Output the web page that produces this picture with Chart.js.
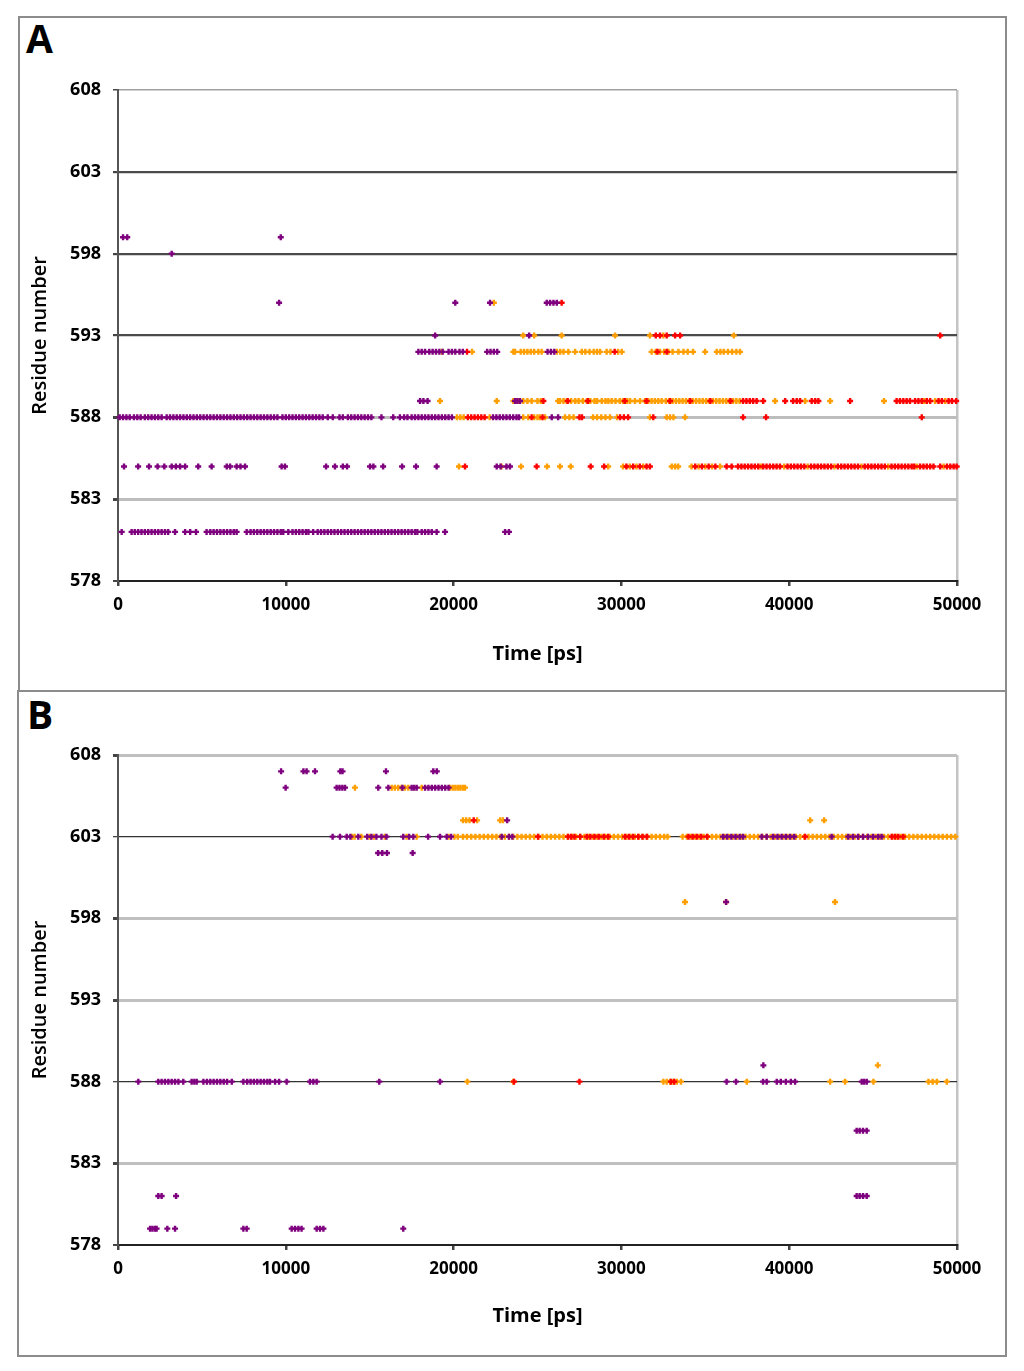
<!DOCTYPE html>
<html><head><meta charset="utf-8">
<script src="https://cdn.jsdelivr.net/npm/chart.js@4.4.1/dist/chart.umd.min.js"></script>
<style>
html,body{margin:0;padding:0;background:#fff;width:1024px;height:1371px;overflow:hidden;}
.box{position:absolute;border:2px solid #8c8c8c;box-sizing:border-box;background:#fff}
.lbl{position:absolute;font-family:"Open Sans",sans-serif;font-weight:700;font-size:39px;color:#000;line-height:1}
.wrap{position:absolute}
</style></head><body>
<div class="box" style="left:18px;top:16px;width:989px;height:676px"></div>
<div class="box" style="left:17px;top:690px;width:990px;height:667px"></div>
<div class="lbl" style="left:26px;top:18px">A</div>
<div class="lbl" style="left:27px;top:694px">B</div>
<div class="wrap" style="left:18px;top:18px;width:988px;height:672px"><canvas id="cA"></canvas></div>
<div class="wrap" style="left:18px;top:692px;width:988px;height:663px"><canvas id="cB"></canvas></div>
<script>
// ---------- tick labels ----------
const yTicks = [578, 583, 588, 593, 598, 603, 608];
const xTicks = [0, 10000, 20000, 30000, 40000, 50000];
const xTitle = 'Time [ps]';
const yTitle = 'Residue number';

// ---------- data: [residue, [times in ps]] ----------
const aPurple = [
  [599, [300, 550, 9700]],
  [598, [3200]],
  [595, [9600, 20100, 22170, 25550, 25750, 25950, 26150]],
  [593, [18900, 24500]],
  [592, [17900, 18100, 18300, 18550, 18750, 18950, 19150, 19350, 19700, 19900, 20100, 20350, 20550, 22000, 22200, 22400, 22600, 25600, 25800, 26000]],
  [589, [18000, 18200, 18450, 23660, 23800, 23960]],
  [588, [100, 300, 500, 700, 950, 1150, 1350, 1600, 1800, 2000, 2200, 2400, 2600, 2900, 3100, 3300, 3500, 3700, 3900, 4100, 4300, 4500, 4700, 4900, 5100, 5300, 5500, 5700, 5900, 6100, 6300, 6500, 6700, 6900, 7100, 7300, 7500, 7700, 7900, 8100, 8300, 8500, 8700, 8900, 9100, 9300, 9500, 9800, 10000, 10200, 10400, 10600, 10800, 11000, 11200, 11400, 11600, 11800, 12000, 12200, 12500, 12800, 13200, 13400, 13700, 13900, 14100, 14300, 14500, 14700, 14900, 15100, 15700, 16400, 16800, 17050, 17250, 17500, 17700, 17900, 18100, 18300, 18500, 18700, 18900, 19100, 19300, 19500, 19700, 19900, 22350, 22550, 22750, 22950, 23150, 23350, 23550, 23750, 23900, 25850, 26230]],
  [585, [360, 1200, 1850, 2360, 2760, 3200, 3450, 3700, 4000, 4780, 5580, 6480, 6680, 7070, 7300, 7570, 9750, 9950, 12400, 12930, 13400, 13650, 15020, 15220, 15800, 16930, 17760, 18990, 22570, 22800, 23150, 23360]],
  [581, [220, 810, 1000, 1200, 1400, 1600, 1800, 2000, 2200, 2400, 2600, 2800, 2990, 3400, 4000, 4300, 4650, 5280, 5500, 5700, 5900, 6100, 6300, 6500, 6700, 6900, 7070, 7670, 7900, 8100, 8300, 8500, 8700, 8900, 9100, 9300, 9500, 9700, 9850, 10150, 10400, 10600, 10800, 11000, 11200, 11350, 11630, 11900, 12100, 12300, 12500, 12700, 12900, 13100, 13300, 13500, 13700, 13900, 14100, 14300, 14500, 14700, 14900, 15100, 15300, 15500, 15700, 15900, 16100, 16300, 16500, 16700, 16900, 17100, 17300, 17500, 17700, 17840, 18100, 18300, 18500, 18700, 18990, 19490, 23070, 23300]]
];
const aOrange = [
  [595, [22400]],
  [593, [24150, 24800, 26440, 29620, 31700, 32500, 36700]],
  [592, [19300, 21100, 23560, 23660, 24000, 24200, 24400, 24600, 24800, 25050, 25250, 26150, 26350, 26550, 26840, 27240, 27640, 27850, 28100, 28350, 28550, 28730, 29120, 29350, 29800, 30020, 31800, 32050, 32300, 32550, 32800, 33050, 33400, 33700, 33950, 34270, 34990, 35680, 35900, 36100, 36350, 36600, 36850, 37070]],
  [589, [19190, 22570, 23560, 23900, 24150, 24400, 24650, 25000, 25200, 26230, 26340, 26550, 26750, 27000, 27250, 27450, 27700, 27950, 28150, 28400, 28550, 28830, 29050, 29220, 29420, 29650, 29900, 30100, 30350, 30520, 30810, 31110, 31410, 31600, 31800, 32000, 32200, 32400, 32650, 32850, 33050, 33250, 33450, 33650, 33850, 34050, 34250, 34450, 34650, 34850, 35050, 35250, 35450, 35650, 35850, 36050, 36250, 36450, 36650, 36850, 37050, 39160, 40950, 42440, 45650, 48050, 48700, 49300]],
  [588, [20200, 20400, 20600, 22150, 24150, 24450, 24800, 25000, 25150, 25450, 26640, 26900, 27150, 28310, 28550, 28800, 29050, 29320, 29740, 31700, 32700, 32900, 33100, 33790]],
  [585, [20320, 22850, 24020, 25570, 26340, 26980, 29210, 30100, 30500, 30900, 31300, 33000, 33200, 33380, 34180, 34600, 35000, 35400, 35880, 38300, 39700, 41100, 42700, 44300, 45900, 47600, 49200]]
];
const aRed = [
  [595, [26440]],
  [593, [32050, 32300, 32700, 33200, 33500, 49000]],
  [592, [20800, 29600, 32150, 32700]],
  [589, [25350, 26800, 28000, 30200, 31500, 32900, 34100, 35300, 36500, 37250, 37450, 37650, 37850, 38060, 38450, 39760, 40230, 40450, 40650, 41340, 41550, 41740, 43630, 46400, 46600, 46800, 47000, 47200, 47500, 47700, 47900, 48200, 48400, 48900, 49100, 49500, 49700, 49950]],
  [588, [20850, 21050, 21250, 21450, 21650, 21850, 24650, 25300, 27500, 27650, 29920, 30150, 30400, 31900, 37250, 38620, 47900]],
  [585, [20680, 24950, 28170, 28970, 30300, 30700, 31100, 31500, 31700, 34400, 34800, 35200, 35600, 36270, 36570, 36950, 37150, 37350, 37550, 37750, 37950, 38150, 38450, 38650, 38850, 39050, 39250, 39450, 39900, 40100, 40300, 40500, 40700, 40900, 41300, 41500, 41700, 41900, 42100, 42300, 42500, 42900, 43100, 43300, 43500, 43700, 43900, 44100, 44500, 44700, 44900, 45100, 45300, 45500, 45700, 46100, 46300, 46500, 46700, 46900, 47100, 47300, 47450, 47800, 48000, 48200, 48400, 48600, 49000, 49400, 49600, 49800, 49980]]
];

const bPurple = [
  [607, [9720, 11050, 11240, 11740, 13250, 13380, 15970, 18790, 19000]],
  [606, [9990, 13030, 13200, 13370, 13530, 15510, 16110, 16950, 17500, 17650, 17800, 18300, 18500, 18700, 18900, 19100, 19300, 19500, 19700]],
  [604, [23190]],
  [603, [12790, 13230, 13630, 13850, 14320, 14850, 15100, 15400, 15700, 16000, 17000, 17350, 17600, 18480, 19190, 19590, 19850, 22870, 23300, 23500, 36060, 36300, 36550, 36800, 37050, 37250, 38360, 38660, 39040, 39300, 39550, 39800, 40050, 40300, 42530, 43520, 43800, 44100, 44400, 44700, 45000, 45300, 45510]],
  [602, [15500, 15750, 16030, 17560]],
  [599, [36240]],
  [589, [38460]],
  [588, [1210, 2400, 2600, 2800, 3000, 3200, 3400, 3600, 3890, 4390, 4550, 4690, 5090, 5300, 5500, 5700, 5900, 6100, 6300, 6500, 6780, 7470, 7700, 7900, 8100, 8300, 8500, 8700, 8900, 9060, 9360, 9600, 10050, 11440, 11640, 11840, 15570, 19190, 36270, 36830, 38440, 38660, 39260, 39500, 39800, 40100, 40350, 44320, 44470, 44620]],
  [585, [44020, 44200, 44400, 44620]],
  [581, [2400, 2600, 3460, 44020, 44200, 44400, 44620]],
  [579, [1910, 2050, 2200, 2300, 2940, 3400, 7470, 7670, 10350, 10550, 10750, 10940, 11840, 12040, 12240, 17000]]
];
const bOrange = [
  [606, [14120, 16310, 16500, 16700, 16900, 17100, 17300, 18100, 19790, 19950, 20100, 20250, 20400, 20550, 20680]],
  [604, [20560, 20750, 20950, 21400, 22770, 22930, 41250, 42080]],
  [603, [13950, 14100, 14500, 15000, 15250, 15900, 17200, 17800, 19700, 20050, 20250, 20560, 20800, 21050, 21300, 21550, 21800, 22050, 22300, 22550, 22800, 23050, 23300, 23550, 23800, 24050, 24300, 24550, 24800, 25050, 25300, 25550, 25800, 26050, 26300, 26550, 26800, 27050, 27300, 27550, 27800, 28050, 28300, 28550, 28800, 29050, 29300, 29550, 29800, 30050, 30300, 30550, 30800, 31050, 31300, 31550, 31800, 32050, 32300, 32550, 32750, 33650, 33900, 34150, 34400, 34650, 34900, 35150, 35400, 35650, 35900, 36150, 36400, 36650, 36900, 37150, 37400, 37650, 37900, 38150, 38400, 38650, 38900, 39150, 39400, 39650, 39900, 40150, 40400, 40650, 40900, 41150, 41400, 41650, 41900, 42150, 42400, 42650, 42900, 43150, 43400, 43650, 43900, 44150, 44400, 44650, 44900, 45150, 45400, 45650, 45900, 46150, 46400, 46650, 46900, 47150, 47400, 47650, 47900, 48150, 48400, 48650, 48900, 49150, 49400, 49650, 49900]],
  [599, [33790, 36240, 42730]],
  [589, [45280]],
  [588, [20820, 23560, 32500, 32700, 32900, 33100, 33300, 33550, 37470, 42440, 43330, 45020, 48300, 48550, 48800, 49390]]
];
const bRed = [
  [604, [21200]],
  [603, [25030, 26820, 27000, 27200, 27540, 27940, 28150, 28400, 28650, 28950, 29210, 30220, 30450, 30700, 31000, 31250, 31510, 34000, 34250, 34500, 34750, 35100, 40950, 46110, 46300, 46500, 46790]],
  [588, [23600, 27500, 32950, 33150]]
];

// ---------- colours ----------
const cPurple = '#7f007f';
const cOrange = '#ff9e00';
const cRed = '#ff0000';

function toPoints(rows) {
  const pts = [];
  rows.forEach(([res, times]) => times.forEach(t => pts.push({x: t, y: res})));
  return pts;
}

function ds(rows, color, order) {
  return {
    data: toPoints(rows),
    pointStyle: 'cross',
    pointRadius: 3,
    pointBorderWidth: 2.4,
    borderColor: color,
    backgroundColor: color,
    showLine: false,
    order: order,
    clip: 6
  };
}

function makeChart(id, purple, orange, red, gridStyle, padTop, xH, titlePad) {
  return new Chart(document.getElementById(id), {
    type: 'scatter',
    data: { datasets: [ds(purple, cPurple, 0), ds(red, cRed, 1), ds(orange, cOrange, 2)] },
    options: {
      responsive: true,
      maintainAspectRatio: false,
      animation: false,
      events: [],
      layout: { padding: { top: padTop, right: 49, left: 0, bottom: 0 } },
      plugins: { legend: { display: false }, tooltip: { enabled: false } },
      scales: {
        x: {
          type: 'linear', min: 0, max: 50000,
          afterBuildTicks: s => { s.ticks = xTicks.map(v => ({ value: v })); },
          afterFit: s => { s.height = xH; },
          ticks: { color: '#000', padding: 9, maxRotation: 0, font: { family: 'Open Sans', weight: 'bold', size: 17 }, callback: v => String(v) },
          grid: {
            color: c => (c.tick && c.tick.value === 50000) ? '#c4c4c4' : 'rgba(0,0,0,0)',
            lineWidth: 2.5,
            tickColor: '#444', tickLength: 5, drawTicks: true
          },
          border: { color: '#222', width: 2 },
          title: { display: true, text: xTitle, color: '#000', font: { family: 'Open Sans', weight: 'bold', size: 20 }, padding: { top: 0, bottom: titlePad } }
        },
        y: {
          type: 'linear', min: 578, max: 608,
          afterBuildTicks: s => { s.ticks = yTicks.map(v => ({ value: v })); },
          afterFit: s => { s.width = 100; },
          ticks: { color: '#000', padding: 12, font: { family: 'Open Sans', weight: 'bold', size: 18 } },
          grid: {
            color: c => gridStyle(c.tick ? c.tick.value : 0).color,
            lineWidth: c => gridStyle(c.tick ? c.tick.value : 0).width,
            tickColor: '#444', tickLength: 5, drawTicks: true
          },
          border: { color: '#555', width: 2 },
          title: { display: true, text: yTitle, color: '#000', font: { family: 'Open Sans', weight: '600', size: 20 }, padding: { top: 10, bottom: 0 } }
        }
      }
    }
  });
}

const styleA = v => {
  if (v === 578) return { color: '#222', width: 2 };
  if (v === 608) return { color: '#a0a0a0', width: 1.5 };
  if (v === 603 || v === 598 || v === 593) return { color: '#4a4a4a', width: 2.2 };
  return { color: '#bdbdbd', width: 3 };
};
const styleB = v => {
  if (v === 578) return { color: '#222', width: 2 };
  if (v === 603 || v === 588) return { color: '#333', width: 1.3 };
  return { color: '#c0c0c0', width: 3 };
};

makeChart('cA', aPurple, aOrange, aRed, styleA, 72, 109, 24);
makeChart('cB', bPurple, bOrange, bRed, styleB, 63, 110, 27);
</script>
</body></html>
